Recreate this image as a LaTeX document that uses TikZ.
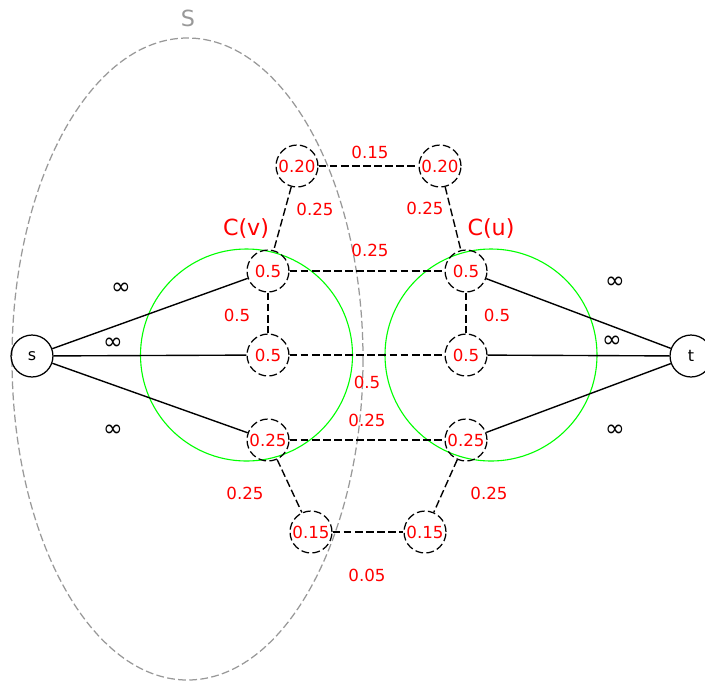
\documentclass[tikz,border=0pt]{standalone}
\usepackage{fontspec}
\setmainfont{DejaVu Sans}
\begin{document}
\begin{tikzpicture}[x=0.72pt,y=-0.72pt,
  vtx/.style={circle,draw=black,dash pattern=on 5.6pt off 2.4pt,line width=0.9pt,minimum size=30.2pt,inner sep=0pt,text=red,font=\fontsize{12}{14}\selectfont},
  term/.style={circle,draw=black,line width=0.9pt,minimum size=30.2pt,inner sep=0pt,font=\fontsize{11.5}{13}\selectfont},
  caplbl/.style={text=red,font=\fontsize{12}{14}\selectfont,inner sep=0pt},
  inf/.style={font=\fontsize{17}{19}\selectfont,inner sep=0pt},
  big/.style={font=\fontsize{16}{18}\selectfont,inner sep=0pt},
  sol/.style={line width=1pt,black},
  dsh/.style={line width=1pt,black,dash pattern=on 5.6pt off 2.4pt}]
\useasboundingbox (0,0) rectangle (705,682);
% set S
\draw[gray!80,line width=0.9pt,dash pattern=on 5.6pt off 2.4pt] (187.5,359) ellipse [x radius=175.5,y radius=321];
\node[big,text=gray!80] (lblS) at (188,18) {S};
% clusters
\draw[green,line width=0.8pt] (246.5,355) circle [radius=106];
\draw[green,line width=0.8pt] (491,355) circle [radius=106];
\node[big,text=red] (lblCv) at (246,229) {C(v)};
\node[big,text=red] (lblCu) at (491,229) {C(u)};
% nodes
\node[term] (s) at (32,356) {s};
\node[term] (t) at (691,356) {t};
\node[vtx] (a1) at (297,166) {0.20};
\node[vtx] (a2) at (440,166) {0.20};
\node[vtx] (v1) at (268,271) {0.5};
\node[vtx] (v2) at (268,355) {0.5};
\node[vtx] (v3) at (268,440) {0.25};
\node[vtx] (u1) at (466,271) {0.5};
\node[vtx] (u2) at (466,355) {0.5};
\node[vtx] (u3) at (466,440) {0.25};
\node[vtx] (b1) at (311,532) {0.15};
\node[vtx] (b2) at (425,532) {0.15};
% solid edges
\draw[sol] (s) -- (v1);
\draw[sol] (s) -- (v2);
\draw[sol] (s) -- (v3);
\draw[sol] (u1) -- (t);
\draw[sol] (u2) -- (t);
\draw[sol] (u3) -- (t);
% dashed edges
\draw[dsh] (a1) -- (a2);
\draw[dsh] (a1) -- (v1);
\draw[dsh] (a2) -- (u1);
\draw[dsh] (v1) -- (u1);
\draw[dsh] (v1) -- (v2);
\draw[dsh] (u1) -- (u2);
\draw[dsh] (v2) -- (u2);
\draw[dsh] (v3) -- (u3);
\draw[dsh] (v3) -- (b1);
\draw[dsh] (u3) -- (b2);
\draw[dsh] (b1) -- (b2);
% capacities
\node[caplbl] (c1) at (370,152) {0.15};
\node[caplbl] (c2) at (315,209) {0.25};
\node[caplbl] (c3) at (425,208) {0.25};
\node[caplbl] (c4) at (370,250) {0.25};
\node[caplbl] (c5) at (237,315) {0.5};
\node[caplbl] (c6) at (497,315) {0.5};
\node[caplbl] (c7) at (367,382) {0.5};
\node[caplbl] (c8) at (367,420) {0.25};
\node[caplbl] (c9) at (245,493) {0.25};
\node[caplbl] (c10) at (489,493) {0.25};
\node[caplbl] (c11) at (367,575) {0.05};
\node[inf] (i1) at (121,289) {∞};
\node[inf] (i2) at (113,344) {∞};
\node[inf] (i3) at (113,431) {∞};
\node[inf] (i4) at (615,283) {∞};
\node[inf] (i5) at (612,342) {∞};
\node[inf] (i6) at (615,431) {∞};
\end{tikzpicture}
\end{document}
